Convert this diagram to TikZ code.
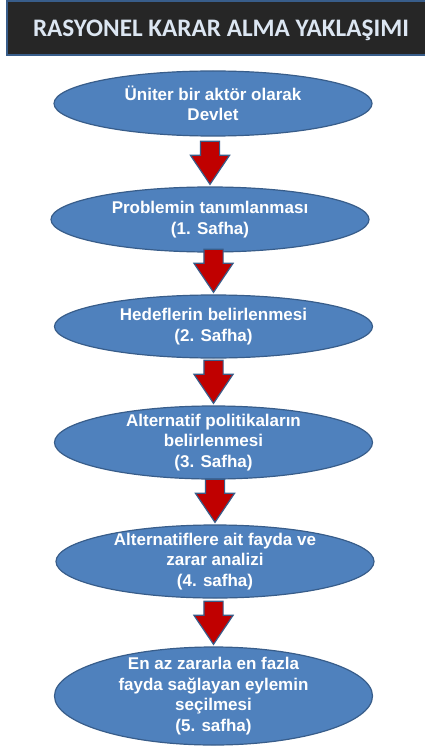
\documentclass[tikz,border=0pt]{standalone}
\usepackage{fontspec}
\setmainfont{Liberation Sans}
\newfontfamily\titlefont{Carlito}
\definecolor{phaseblue}{RGB}{79,129,189}
\definecolor{phaseedge}{RGB}{56,93,138}
\definecolor{arrowred}{RGB}{192,0,0}
\definecolor{titlebg}{RGB}{38,38,38}
\definecolor{titletext}{RGB}{220,230,242}
\usetikzlibrary{shapes.geometric,shapes.arrows,positioning}

\begin{document}
\begin{tikzpicture}[x=1pt,y=-1pt,
    phase/.style={ellipse, draw=phaseedge, line width=1.2pt, fill=phaseblue,
      inner sep=0pt, minimum width=318pt},
    phasetext/.style={text=white, align=center, inner sep=0pt,
      font=\bfseries\fontsize{17}{20.5}\selectfont},
    downarrow/.style={single arrow, draw=phaseedge, line width=1.2pt, fill=arrowred,
      shape border rotate=270, minimum height=43pt, inner sep=9pt,
      single arrow head extend=10pt, single arrow tip angle=68, anchor=tip}]
  \useasboundingbox (0,0) rectangle (425,746);
  \fill[white] (0,0) rectangle (425,746);
  % title bar
  \draw[fill=titlebg, draw=phaseedge, line width=1.5pt] (7,1) rectangle (440,55);
  \node[font=\titlefont\bfseries\fontsize{25.2}{29}\selectfont, text=titletext, anchor=base]
    (title) at (221,36.5) {RASYONEL KARAR ALMA YAKLAŞIMI};
  % phases
  \node[phase, minimum height=65pt, label={[phasetext]center:{Üniter bir aktör olarak\\Devlet}}]
    (actor) at (213,103.5) {};
  \node[phase, minimum height=65pt, label={[phasetext]center:{Problemin tanımlanması\\(1. Safha)}}]
    (problem) at (210,219.5) {};
  \node[phase, minimum height=63pt, label={[phasetext]center:{Hedeflerin belirlenmesi\\(2. Safha)}}]
    (goals) at (213.5,326.5) {};
  \node[phase, minimum height=73pt, label={[phasetext]center:{Alternatif politikaların\\belirlenmesi\\(3. Safha)}}]
    (policies) at (213.5,442.5) {};
  \node[phase, minimum height=73pt, label={[phasetext]center:{Alternatiflere ait fayda ve\\zarar analizi\\(4. safha)}}]
    (analysis) at (215,561.5) {};
  \node[phase, minimum height=98pt, label={[phasetext]center:{En az zararla en fazla\\fayda sağlayan eylemin\\seçilmesi\\(5. safha)}}]
    (choice) at (213.5,696) {};
  % arrows between phases
  \node[downarrow] (a1) at ([yshift=1pt]problem.north) {};
  \node[downarrow] (a2) at ([yshift=1pt]goals.north) {};
  \node[downarrow] (a3) at ([yshift=1pt]policies.north) {};
  \node[downarrow] (a4) at ([yshift=1pt]analysis.north) {};
  \node[downarrow] (a5) at ([yshift=1pt]choice.north) {};
\end{tikzpicture}
\end{document}
